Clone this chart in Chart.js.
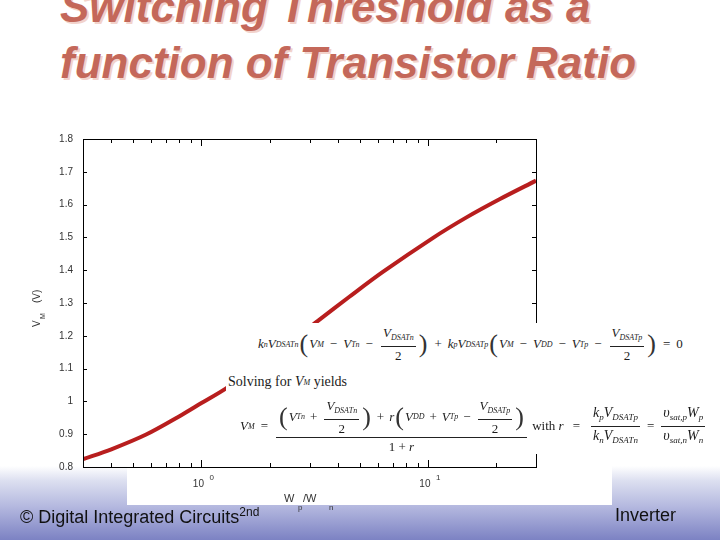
<!DOCTYPE html>
<html>
<head>
<meta charset="utf-8">
<script src="https://cdn.jsdelivr.net/npm/chart.js@4.4.1/dist/chart.umd.min.js"></script>
<style>
  body { margin: 0; width: 720px; height: 540px; overflow: hidden; background: #fff; position: relative; font-family: "Liberation Sans", Arial, sans-serif; }
  #footer { position: absolute; left: 0; top: 466px; width: 720px; height: 74px;
    background: linear-gradient(to bottom, #ffffff 0%, #dcdff0 20%, #b4b8df 55%, #7c82c3 100%); }
  #plotbg { position: absolute; left: 127px; top: 466px; width: 485px; height: 39px; background: #fff; }
  #grafico { position: absolute; left: 0; top: 120px; }
  #titulo { position: absolute; left: 60px; top: -21px; font-size: 44px; line-height: 56px; font-weight: bold; font-style: italic;
    color: #c4685a; text-shadow: 2px 2px 0 #f2d3cc; white-space: nowrap; }
  #pie-izq { position: absolute; left: 20px; top: 505px; font-size: 18px; color: #111; white-space: nowrap; }
  #pie-izq sup { font-size: 12px; vertical-align: 7px; }
  #pie-der { position: absolute; left: 615px; top: 505px; font-size: 18px; color: #111; }
  .eq { position: absolute; left: 226px; top: 323px; width: 494px; height: 131px; background: #fff;
    font-family: "Liberation Serif", "Times New Roman", serif; font-size: 13px; color: #1c1c1c; }
  .row { position: absolute; display: flex; align-items: center; white-space: nowrap; }
  .eq sub { font-size: 8px; vertical-align: -3px; font-style: italic; }
  .frac { display: inline-flex; flex-direction: column; align-items: center; margin: 0 2px; line-height: 15px; }
  .frac > span:first-child { border-bottom: 1px solid #222; padding: 0 2px 1px; }
  .frac > span:last-child { padding-top: 1px; }
  .p { font-size: 26px; font-weight: lighter; line-height: 28px; margin: 0 1px; color: #333; }
  .op { margin: 0 4px; }
  .r1 .op { margin: 0 6px; }
  .r3 .op { margin: 0 5px; }
  .grande { font-size: 14px; }
  .grande sub { font-size: 9px; }
</style>
</head>
<body>
<div id="footer"></div>
<div id="plotbg"></div>
<canvas id="grafico" width="620" height="400"></canvas>
<div id="titulo">Switching Threshold as a<br>function of Transistor Ratio</div>

<div class="eq">
  <div class="row r1" style="left:32px; top:3px; height:36px;">
    <i>k</i><sub>n</sub><i>V</i><sub>DSATn</sub><span class="p">(</span><i>V</i><sub>M</sub><span class="op">−</span><i>V</i><sub>Tn</sub><span class="op">−</span><span class="frac"><span><i>V</i><sub>DSATn</sub></span><span>2</span></span><span class="p">)</span><span class="op">+</span><i>k</i><sub>p</sub><i>V</i><sub>DSATp</sub><span class="p">(</span><i>V</i><sub>M</sub><span class="op">−</span><i>V</i><sub>DD</sub><span class="op">−</span><i>V</i><sub>Tp</sub><span class="op">−</span><span class="frac"><span><i>V</i><sub>DSATp</sub></span><span>2</span></span><span class="p">)</span><span class="op">=</span>0
  </div>
  <div class="row" style="left:2px; top:50px; height:18px; font-size:14px;">
    Solving for&nbsp;<i>V</i><sub>M</sub>&nbsp;yields
  </div>
  <div class="row r3" style="left:14px; top:78px; height:50px;">
    <i>V</i><sub>M</sub><span class="op" style="margin:0 6px;">=</span>
    <span class="frac" style="line-height:30px;">
      <span style="display:flex; align-items:center;"><span class="p">(</span><i>V</i><sub>Tn</sub><span class="op">+</span><span class="frac"><span><i>V</i><sub>DSATn</sub></span><span>2</span></span><span class="p">)</span><span class="op">+</span><i>r</i><span class="p">(</span><i>V</i><sub>DD</sub><span class="op">+</span><i>V</i><sub>Tp</sub><span class="op">−</span><span class="frac"><span><i>V</i><sub>DSATp</sub></span><span>2</span></span><span class="p">)</span></span>
      <span style="line-height:16px;">1 + <i>r</i></span>
    </span>
    &nbsp;with&nbsp;<i>r</i><span class="op" style="margin:0 9px;">=</span>
    <span class="frac grande"><span><i>k</i><sub>p</sub><i>V</i><sub>DSATp</sub></span><span><i>k</i><sub>n</sub><i>V</i><sub>DSATn</sub></span></span>
    <span class="op" style="margin:0 5px;">=</span>
    <span class="frac grande"><span><i>υ</i><sub>sat,p</sub><i>W</i><sub>p</sub></span><span><i>υ</i><sub>sat,n</sub><i>W</i><sub>n</sub></span></span>
  </div>
</div>

<div id="pie-izq">© Digital Integrated Circuits<sup>2nd</sup></div>
<div id="pie-der">Inverter</div>

<script>
// --- DATOS ---
const ratios = [0.3, 0.4, 0.57, 0.8, 1.0, 1.28, 2.0, 3.3, 4.5, 6.3, 10.5, 14.8, 20.8, 30];
const vm = [0.824, 0.854, 0.899, 0.955, 0.995, 1.039, 1.135, 1.248, 1.319, 1.394, 1.498, 1.561, 1.617, 1.673];

const yTicks = [0.8, 0.9, 1.0, 1.1, 1.2, 1.3, 1.4, 1.5, 1.6, 1.7, 1.8];
const yTickLabels = ['0.8', '0.9', '1', '1.1', '1.2', '1.3', '1.4', '1.5', '1.6', '1.7', '1.8'];
const xMinorTicks = [0.3, 0.4, 0.5, 0.6, 0.7, 0.8, 0.9, 2, 3, 4, 5, 6, 7, 8, 9, 20, 30];
const xMajorTicks = [1, 10];
const xMajorExp = ['0', '1'];

// Ejes estilo gnuplot: marco, marcas hacia dentro y etiquetas
const ejesPlugin = {
    id: 'ejes',
    afterDraw(chart) {
        const { ctx, chartArea: a, scales: { x, y } } = chart;
        ctx.save();
        ctx.strokeStyle = '#000';
        ctx.lineWidth = 1;
        ctx.strokeRect(Math.round(a.left) + 0.5, Math.round(a.top) + 0.5, Math.round(a.right - a.left), Math.round(a.bottom - a.top));

        ctx.beginPath();
        for (const v of yTicks) {
            const py = Math.round(y.getPixelForValue(v)) + 0.5;
            ctx.moveTo(a.left, py); ctx.lineTo(a.left + 4, py);
            ctx.moveTo(a.right, py); ctx.lineTo(a.right - 4, py);
        }
        for (const v of xMinorTicks) {
            const px = Math.round(x.getPixelForValue(v)) + 0.5;
            ctx.moveTo(px, a.bottom); ctx.lineTo(px, a.bottom - 4);
            ctx.moveTo(px, a.top); ctx.lineTo(px, a.top + 4);
        }
        for (const v of xMajorTicks) {
            const px = Math.round(x.getPixelForValue(v)) + 0.5;
            ctx.moveTo(px, a.bottom); ctx.lineTo(px, a.bottom - 7);
            ctx.moveTo(px, a.top); ctx.lineTo(px, a.top + 7);
        }
        ctx.stroke();

        ctx.fillStyle = '#333';
        ctx.font = '10px "Liberation Sans", Arial, sans-serif';
        ctx.textAlign = 'right';
        ctx.textBaseline = 'middle';
        yTicks.forEach((v, i) => {
            ctx.fillText(yTickLabels[i], a.left - 10, y.getPixelForValue(v));
        });

        ctx.textBaseline = 'alphabetic';
        xMajorTicks.forEach((v, i) => {
            const px = x.getPixelForValue(v);
            ctx.textAlign = 'center';
            ctx.font = '10px "Liberation Sans", Arial, sans-serif';
            ctx.fillText('10', px - 3, a.bottom + 20);
            ctx.textAlign = 'left';
            ctx.font = '8px "Liberation Sans", Arial, sans-serif';
            ctx.fillText(xMajorExp[i], px + 8, a.bottom + 13);
        });

        // título eje X: W_p/W_n
        ctx.textAlign = 'left';
        ctx.font = '11px "Liberation Sans", Arial, sans-serif';
        ctx.fillText('W', 284, a.bottom + 35);
        ctx.fillText('/W', 303, a.bottom + 35);
        ctx.font = '8px "Liberation Sans", Arial, sans-serif';
        ctx.fillText('p', 298, a.bottom + 43);
        ctx.fillText('n', 329, a.bottom + 43);

        // título eje Y: V_M (V)
        ctx.translate(40, 327 - 120);
        ctx.rotate(-Math.PI / 2);
        ctx.font = '10px "Liberation Sans", Arial, sans-serif';
        ctx.fillText('V', 0, 0);
        ctx.font = '7px "Liberation Sans", Arial, sans-serif';
        ctx.fillText('M', 8, 5);
        ctx.font = '10px "Liberation Sans", Arial, sans-serif';
        ctx.fillText('(V)', 24, 0);
        ctx.restore();
    }
};

const grafico = document.getElementById('grafico');
const chart = new Chart(grafico, {
    type: 'line',
    data: {
        datasets: [{
            label: 'V_M',
            data: ratios.map((r, i) => ({ x: r, y: vm[i] })),
            borderColor: '#b81e1e',
            borderWidth: 4,
            pointRadius: 0,
            fill: false,
            tension: 0.3
        }]
    },
    options: {
        responsive: false,
        animation: false,
        devicePixelRatio: 1,
        layout: { padding: { left: 83, right: 84, top: 19, bottom: 53 } },
        scales: {
            x: { type: 'logarithmic', min: 0.3, max: 30, display: false },
            y: { type: 'linear', min: 0.8, max: 1.8, display: false }
        },
        plugins: {
            legend: { display: false },
            tooltip: { enabled: false }
        }
    },
    plugins: [ejesPlugin]
});
</script>
</body>
</html>
